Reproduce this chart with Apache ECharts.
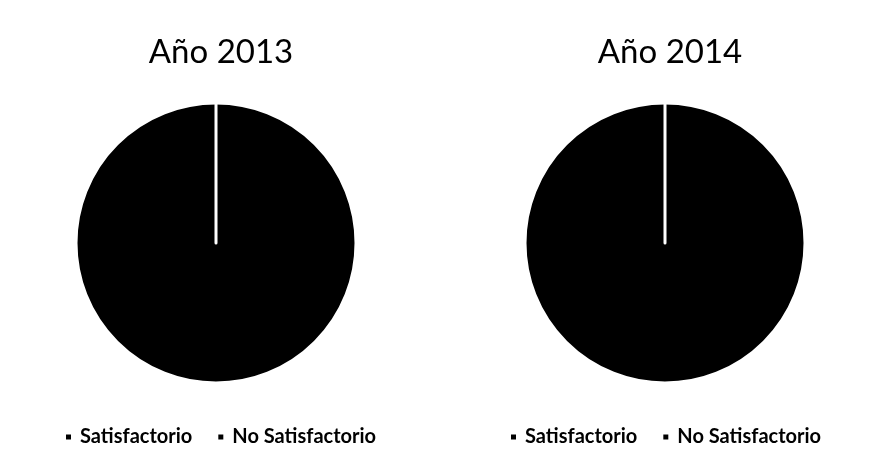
<!DOCTYPE html>
<html>
<head>
<meta charset="utf-8">
<script src="https://cdn.jsdelivr.net/npm/echarts@6/dist/echarts.min.js"></script>
<style>
  html, body { margin: 0; padding: 0; background: #fff; }
  #chart { width: 870px; height: 472px; }
</style>
</head>
<body>
<div id="chart"></div>
<script>
// Survey result categories, shared by both years
const categories = ['Satisfactorio', 'No Satisfactorio'];
// One pie per year
const yearTitles = ['Año 2013', 'Año 2014'];
const values2013 = [100, 0];
const values2014 = [100, 0];

const FONT = 'Lato, "Open Sans", sans-serif';
const centersX = [216, 665];
const legendLeft = [59, 504];

function pieSeries(name, values, cx) {
  return {
    type: 'pie',
    name: name,
    center: [cx, 243],
    radius: [0, 140],
    startAngle: 90,
    clockwise: true,
    animation: false,
    label: { show: false },
    labelLine: { show: false },
    emphasis: { disabled: true },
    itemStyle: { color: '#000', borderColor: '#fff', borderWidth: 3 },
    data: categories.map((c, i) => ({ name: c, value: values[i] }))
  };
}

const chart = echarts.init(document.getElementById('chart'), null, { renderer: 'canvas' });
chart.setOption({
  backgroundColor: '#fff',
  title: yearTitles.map((t, i) => ({
    text: t,
    left: centersX[i],
    top: 31,
    textAlign: 'center',
    textStyle: { fontFamily: FONT, fontSize: 33, fontWeight: 'normal', color: '#000' }
  })),
  legend: legendLeft.map((lx) => ({
    data: categories,
    left: lx,
    top: 422,
    icon: 'rect',
    itemWidth: 7,
    itemHeight: 7,
    itemGap: 24,
    selectedMode: false,
    textStyle: { fontFamily: FONT, fontSize: 20, fontWeight: 'bold', color: '#000', padding: [0, 0, 0, 3] }
  })),
  series: [
    pieSeries(yearTitles[0], values2013, centersX[0]),
    pieSeries(yearTitles[1], values2014, centersX[1])
  ]
});
</script>
</body>
</html>
